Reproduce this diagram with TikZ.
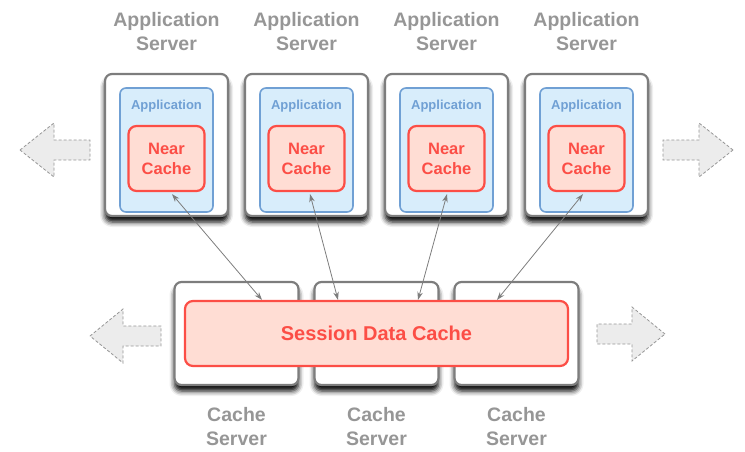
\documentclass[tikz,border=0pt]{standalone}
\usepackage{fontspec}
\setmainfont{Liberation Sans}
\usetikzlibrary{shadows.blur, arrows.meta}
\definecolor{labelgray}{RGB}{150,150,150}
\definecolor{boxgray}{RGB}{125,125,125}
\definecolor{appblue}{RGB}{112,160,212}
\definecolor{appfill}{RGB}{216,237,251}
\definecolor{cachered}{RGB}{252,78,70}
\definecolor{cachefill}{RGB}{255,221,212}
\definecolor{linkgray}{RGB}{125,125,125}
\definecolor{arrowgray}{RGB}{150,150,150}
\definecolor{arrowfill}{RGB}{236,236,236}
\tikzstyle{serverbox} = [draw=boxgray, line width=2.2pt, fill=white, rounded corners=7pt, inner sep=0pt,
  blur shadow={shadow xshift=0pt, shadow yshift=-6pt, shadow blur radius=5pt, shadow opacity=100, shadow blur extra rounding=2pt}]
\tikzstyle{appbox} = [draw=appblue, line width=1.6pt, fill=appfill, rounded corners=6pt, inner sep=0pt]
\tikzstyle{cachebox} = [draw=cachered, line width=2.2pt, fill=cachefill, rounded corners=8pt, inner sep=0pt]
\tikzstyle{caption} = [text=labelgray, font=\fontsize{19.5}{24}\selectfont\bfseries, align=center]
\tikzstyle{blockarrow} = [draw=arrowgray, dash pattern=on 3pt off 2pt, fill=arrowfill, line width=0.8pt]
\tikzstyle{link} = [draw=linkgray, line width=0.8pt, {Stealth[length=8pt,width=5.5pt]}-{Stealth[length=8pt,width=5.5pt]}]

\begin{document}
\begin{tikzpicture}[x=1pt, y=-1pt]
    \useasboundingbox (0,0) rectangle (745,451);
    % application servers
    \foreach \i in {1,2,3,4}{
        \node[serverbox, minimum width=123pt, minimum height=142pt] (as\i) at (26.5+140*\i,145) {};
        \node[appbox, minimum width=93pt, minimum height=124pt] (app\i) at (26.5+140*\i,150) {};
        \node[text=appblue, font=\fontsize{13}{15}\selectfont\bfseries] (appname\i) at (26.5+140*\i,106) {Application};
        \node[cachebox, minimum width=76pt, minimum height=65pt, text=cachered, align=center,
              font=\fontsize{16.5}{20}\selectfont\bfseries] (nc\i) at (26.5+140*\i,158.5) {Near\\Cache};
        \node[caption] (aslabel\i) at (26.5+140*\i,32) {Application\\Server};
    }
    % cache servers
    \foreach \i in {1,2,3}{
        \node[serverbox, minimum width=124pt, minimum height=103pt] (cs\i) at (96.5+140*\i,333.5) {};
        \node[caption] (cslabel\i) at (96.5+140*\i,427) {Cache\\Server};
    }
    \node[cachebox, minimum width=383pt, minimum height=65pt, text=cachered,
          font=\fontsize{20}{24}\selectfont\bfseries] (sdc) at (376.5,333.5) {Session Data Cache};
    % scale-out arrows
    \draw[blockarrow, shift={(20,150)}] (0,0) -- (34,-27) -- (34,-10) -- (70,-10) -- (70,10) -- (34,10) -- (34,27) -- cycle;
    \draw[blockarrow, shift={(733,150)}, xscale=-1] (0,0) -- (34,-27) -- (34,-10) -- (70,-10) -- (70,10) -- (34,10) -- (34,27) -- cycle;
    \draw[blockarrow, shift={(90,336)}] (0,0) -- (33,-27) -- (33,-10) -- (71,-10) -- (71,10) -- (33,10) -- (33,27) -- cycle;
    \draw[blockarrow, shift={(665,334)}, xscale=-1] (0,0) -- (33,-27) -- (33,-10) -- (68,-10) -- (68,10) -- (33,10) -- (33,27) -- cycle;
    % near cache <-> session data cache
    \foreach \i/\up/\down in {1/5.5/-114.5, 2/3.5/-38.5, 3/0.5/41.5, 4/-3.5/120.5}{
        \draw[link] ([xshift=\up pt, yshift=-2pt]nc\i.south) -- ([xshift=\down pt]sdc.north);
    }
\end{tikzpicture}
\end{document}
